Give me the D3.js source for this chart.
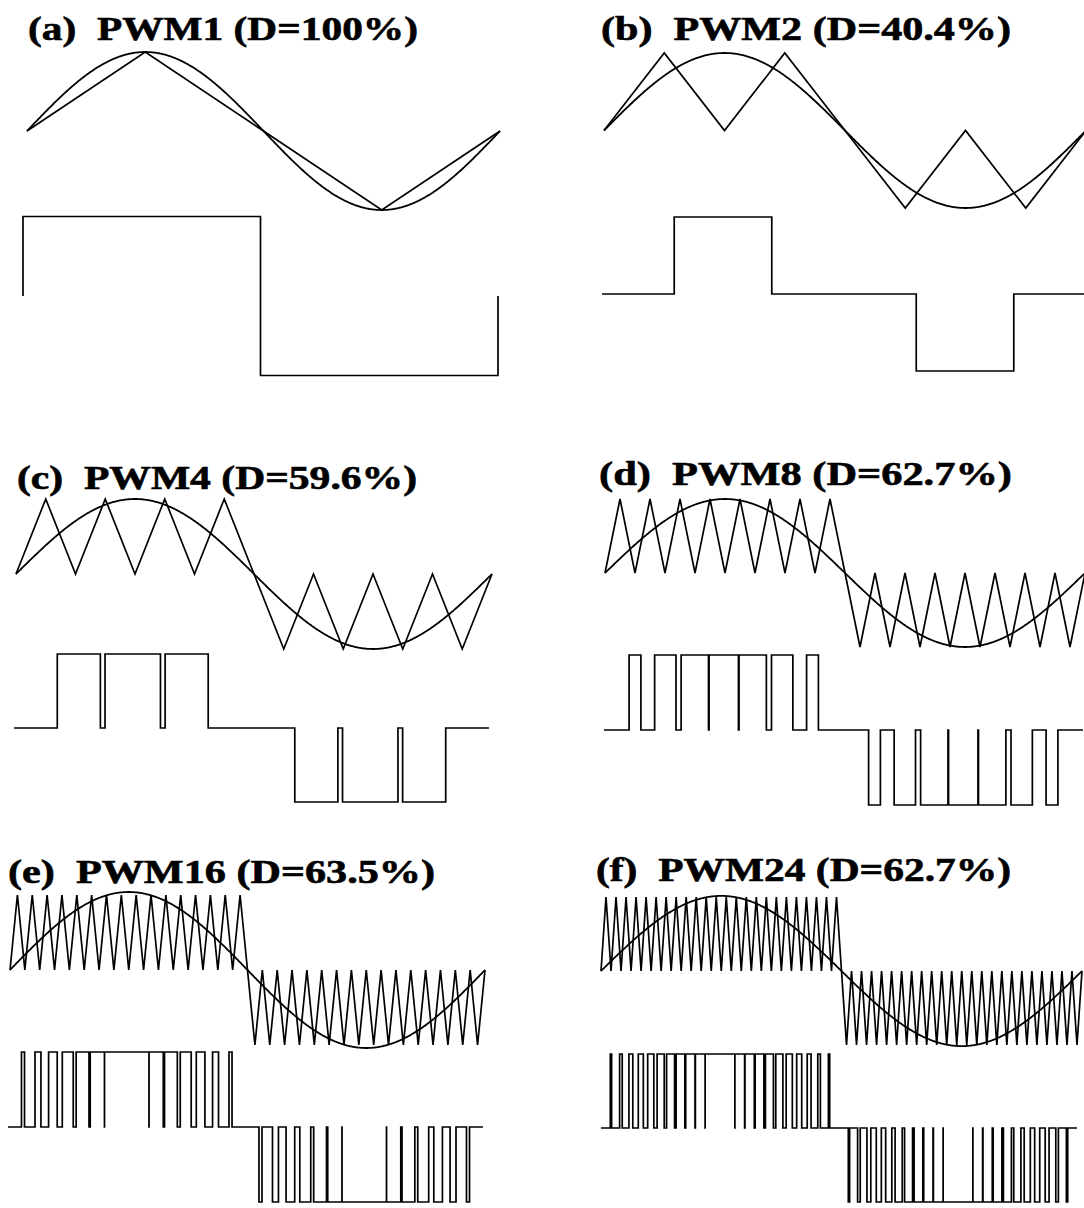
<!DOCTYPE html>
<html>
<head>
<meta charset="utf-8">
<script src="https://cdn.jsdelivr.net/npm/d3@7"></script>
<style>
  html, body { margin: 0; padding: 0; background: #fff; }
  svg { display: block; }
  .title { font-family: "Liberation Serif", "Times New Roman", serif; font-weight: bold; white-space: pre; }
</style>
</head>
<body>
<script>
// Unipolar sine-triangle PWM: reference sine vs. a folded triangular carrier,
// shown for an increasing number of pulses per half cycle.
const panelTags   = ["(a)", "(b)", "(c)", "(d)", "(e)", "(f)"];
const pwmNames    = ["PWM1", "PWM2", "PWM4", "PWM8", "PWM16", "PWM24"];
const pulseCounts = [1, 2, 4, 8, 16, 24];          // carrier peaks per half cycle
const dutyLabels  = ["100%", "40.4%", "59.6%", "62.7%", "63.5%", "62.7%"];
const modIndex    = [1.0, 1.0, 1.0, 1.0, 1.04, 1.015]; // sine amplitude / carrier amplitude

// Placement of each panel on the page (pixels)
const layout = [
  { x0: 27,  x1: 500,  cy: 131,   amp: 79,   ox0: 23,  ox1: 498,  oy: 296,  oamp: 79.5, tx: 28,  ty: 40,  tw: 390 },
  { x0: 604, x1: 1086, cy: 130.5, amp: 77.5, ox0: 602, ox1: 1086, oy: 294,  oamp: 77,   tx: 601, ty: 40,  tw: 410 },
  { x0: 16,  x1: 492,  cy: 574,   amp: 75,   ox0: 14,  ox1: 489,  oy: 728,  oamp: 74,   tx: 17,  ty: 489, tw: 400 },
  { x0: 605, x1: 1085, cy: 573,   amp: 74,   ox0: 604, ox1: 1083, oy: 730,  oamp: 75,   tx: 599, ty: 485, tw: 413 },
  { x0: 10,  x1: 485,  cy: 970,   amp: 75,   ox0: 8,   ox1: 483,  oy: 1127, oamp: 75,   tx: 8,   ty: 883, tw: 427 },
  { x0: 601, x1: 1082, cy: 971,   amp: 74,   ox0: 601, ox1: 1077, oy: 1128, oamp: 74,   tx: 596, ty: 881, tw: 415 }
];

const W = 1084, H = 1208;
const svg = d3.select("body").append("svg").attr("width", W).attr("height", H);

// Carrier: unipolar triangle (0..1) over the positive half cycle,
// mirrored (0..-1) over the negative half cycle. t is in cycles (0..1).
function carrier(t, n) {
  const phase = (t * 2 * n) % 1;
  const tri = phase < 0.5 ? 2 * phase : 2 - 2 * phase;
  return t <= 0.5 ? tri : -tri;
}
function reference(t, m) { return m * Math.sin(2 * Math.PI * t); }

// Output level of the unipolar modulator (touching counts as crossing over)
const EPS = 1e-12;
function outputState(t, n, m) {
  const s = reference(t, m), c = carrier(t, n);
  if (t < 0.5) return s > c - EPS ? 1 : 0;
  return s < c + EPS ? -1 : 0;
}

// Switching instants found by scanning each carrier segment and refining by bisection
function pwmSteps(n, m) {
  const edges = [];
  let prev = outputState(1e-6, n, m);
  const first = prev;
  const segs = 4 * n, sub = 240;
  let a = 1e-6;
  for (let i = 1; i <= segs * sub; i++) {
    const b = Math.min(i / (segs * sub), 1 - 1e-6);
    const sb = outputState(b, n, m);
    if (sb !== prev) {
      let lo = a, hi = b;
      for (let k = 0; k < 50; k++) {
        const mid = (lo + hi) / 2;
        if (outputState(mid, n, m) === prev) lo = mid; else hi = mid;
      }
      edges.push([hi, sb]);
      prev = sb;
    }
    a = b;
  }
  // drop slivers that are only rounding artefacts
  const clean = [];
  edges.forEach(e => {
    const last = clean[clean.length - 1];
    if (last && e[0] - last[0] < 1e-7) {
      clean.pop();
    } else clean.push(e);
  });
  const pts = [[0, 0]];
  if (first !== 0) pts.push([0, first]);
  clean.forEach(e => pts.push(e));
  pts.push([1, prev]);
  pts.push([1, 0]);
  return pts;
}

layout.forEach((L, i) => {
  const n = pulseCounts[i], m = modIndex[i];
  const g = svg.append("g");

  const xTop = d3.scaleLinear().domain([0, 1]).range([L.x0, L.x1]);
  const yTop = d3.scaleLinear().domain([-1, 1]).range([L.cy + L.amp, L.cy - L.amp]);
  const xOut = d3.scaleLinear().domain([0, 1]).range([L.ox0, L.ox1]);
  const yOut = d3.scaleLinear().domain([-1, 1]).range([L.oy + L.oamp, L.oy - L.oamp]);

  // title
  g.append("text")
    .attr("class", "title")
    .attr("x", L.tx).attr("y", L.ty)
    .attr("font-size", 33)
    .attr("textLength", L.tw)
    .attr("lengthAdjust", "spacingAndGlyphs")
    .attr("fill", "#000")
    .attr("stroke", "#000")
    .attr("stroke-width", 0.6)
    .text(`${panelTags[i]}  ${pwmNames[i]} (D=${dutyLabels[i]})`);

  const lineTop = d3.line().x(d => xTop(d[0])).y(d => yTop(d[1]));

  // triangular carrier through its vertices
  const vertices = d3.range(0, 4 * n + 1).map(k => [k / (4 * n), carrier(k / (4 * n), n)]);
  g.append("path")
    .attr("d", lineTop(vertices))
    .attr("fill", "none").attr("stroke", "#000")
    .attr("stroke-width", 1.7);

  // sine reference
  const sine = d3.range(0, 601).map(k => [k / 600, reference(k / 600, m)]);
  g.append("path")
    .attr("d", lineTop(sine))
    .attr("fill", "none").attr("stroke", "#000")
    .attr("stroke-width", 1.8);

  // PWM output
  const lineOut = d3.line().x(d => xOut(d[0])).y(d => yOut(d[1])).curve(d3.curveStepAfter);
  g.append("path")
    .attr("d", lineOut(pwmSteps(n, m)))
    .attr("fill", "none").attr("stroke", "#000")
    .attr("stroke-width", 1.7);
});
</script>
</body>
</html>
